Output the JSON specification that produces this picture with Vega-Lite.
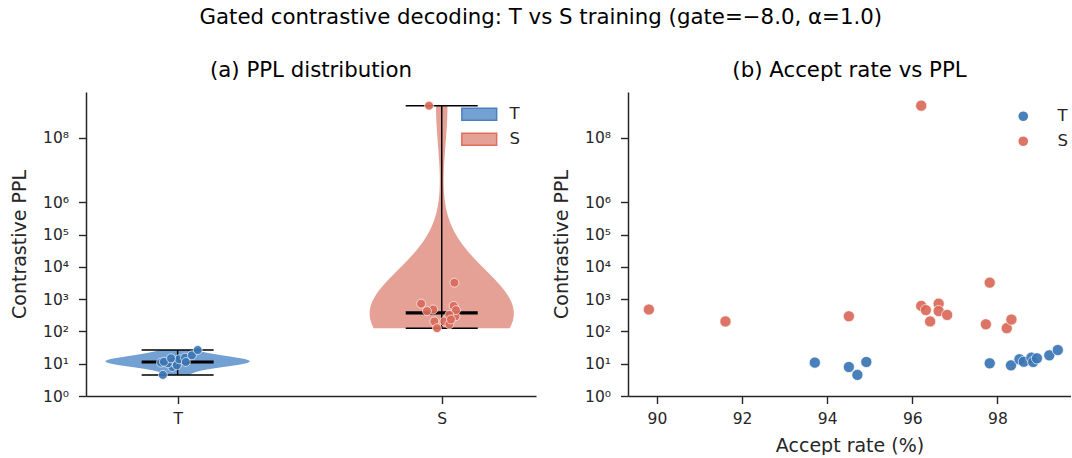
{
  "$schema": "https://vega.github.io/schema/vega-lite/v6.json",
  "background": "white",
  "padding": {"left": 10, "top": 7, "right": 0, "bottom": 0},
  "title": {"text": "Gated contrastive decoding: T vs S training (gate=−8.0, α=1.0)", "fontSize": 21.3, "fontWeight": "normal", "font": "DejaVu Sans", "color": "#000000", "anchor": "middle", "offset": 31},
  "datasets": {
    "pts": [
      {"g": "T", "acc": 93.71, "ppl": 10.8, "jit": -0.063},
      {"g": "T", "acc": 94.51, "ppl": 7.9, "jit": -0.02},
      {"g": "T", "acc": 94.71, "ppl": 4.5, "jit": -0.056},
      {"g": "T", "acc": 94.92, "ppl": 11.3, "jit": -0.018},
      {"g": "T", "acc": 97.82, "ppl": 10.3, "jit": -0.037},
      {"g": "T", "acc": 98.32, "ppl": 8.9, "jit": -0.003},
      {"g": "T", "acc": 98.52, "ppl": 13.7, "jit": 0.005},
      {"g": "T", "acc": 98.62, "ppl": 11.5, "jit": -0.052},
      {"g": "T", "acc": 98.8, "ppl": 15.4, "jit": 0.028},
      {"g": "T", "acc": 98.84, "ppl": 11.3, "jit": 0.031},
      {"g": "T", "acc": 98.93, "ppl": 14.7, "jit": -0.025},
      {"g": "T", "acc": 99.22, "ppl": 18.2, "jit": 0.054},
      {"g": "T", "acc": 99.42, "ppl": 26.5, "jit": 0.076},
      {"g": "S", "acc": 89.81, "ppl": 478, "jit": -0.032},
      {"g": "S", "acc": 91.61, "ppl": 204, "jit": -0.028},
      {"g": "S", "acc": 94.51, "ppl": 295, "jit": 0.052},
      {"g": "S", "acc": 96.21, "ppl": 980000000, "jit": -0.048},
      {"g": "S", "acc": 96.21, "ppl": 617, "jit": 0.045},
      {"g": "S", "acc": 96.32, "ppl": 457, "jit": 0.054},
      {"g": "S", "acc": 96.62, "ppl": 724, "jit": -0.078},
      {"g": "S", "acc": 96.62, "ppl": 427, "jit": -0.056},
      {"g": "S", "acc": 96.42, "ppl": 204, "jit": 0.01},
      {"g": "S", "acc": 96.82, "ppl": 324, "jit": 0.029},
      {"g": "S", "acc": 97.82, "ppl": 3236, "jit": 0.048},
      {"g": "S", "acc": 97.73, "ppl": 166, "jit": 0.029},
      {"g": "S", "acc": 98.22, "ppl": 126, "jit": -0.018},
      {"g": "S", "acc": 98.33, "ppl": 234, "jit": 0.035}
    ]
  },
  "config": {
    "font": "DejaVu Sans",
    "view": {"stroke": null},
    "axis": {"grid": false, "domainColor": "#262626", "tickColor": "#262626", "labelColor": "#262626", "titleColor": "#262626", "labelFontSize": 15.5, "titleFontSize": 19, "titleFontWeight": "normal", "tickSize": 7.5, "domainWidth": 1.5, "tickWidth": 1.4, "labelPadding": 8, "titlePadding": 9},
    "axisY": {"labelPadding": 10, "titlePadding": 13},
    "legend": {"padding": 0, "labelFontSize": 16.5, "labelColor": "#262626", "title": null},
    "title": {"fontSize": 21.3, "fontWeight": "normal", "color": "#000000", "font": "DejaVu Sans"}
  },
  "spacing": 16,
  "resolve": {"scale": {"color": "independent", "fill": "independent", "stroke": "independent", "x": "independent", "y": "independent"}, "legend": {"color": "independent", "fill": "independent", "stroke": "independent"}},
  "hconcat": [
    {
      "width": 450,
      "height": 304,
      "title": {"text": "(a) PPL distribution", "offset": 11},
      "layer": [
        {
          "data": {"name": "pts"},
          "transform": [
            {"filter": "datum.g === 'T'"},
            {"calculate": "log(datum.ppl) / LN10", "as": "lp"},
            {"density": "lp", "groupby": ["g"], "bandwidth": 0.14, "steps": 200, "as": ["lp", "dens"]},
            {"joinaggregate": [{"op": "max", "field": "dens", "as": "dmax"}]},
            {"calculate": "0.273 * datum.dens / datum.dmax", "as": "hw"},
            {"calculate": "0 - datum.hw", "as": "lo"},
            {"calculate": "0 + datum.hw", "as": "hi"},
            {"calculate": "pow(10, datum.lp)", "as": "ppl"}
          ],
          "mark": {"type": "area", "orient": "horizontal", "strokeWidth": 0, "opacity": 1},
          "encoding": {
            "y": {"field": "ppl", "type": "quantitative", "title": "Contrastive PPL", "scale": {"type": "log", "domain": [1, 2600000000], "nice": false}, "axis": {"values": [1, 10, 100, 1000, 10000, 100000, 1000000, 100000000], "labelExpr": "'10' + ['⁰','¹','²','³','⁴','⁵','⁶','⁷','⁸','⁹'][round(log(datum.value) / LN10)]"}},
            "x": {"field": "lo", "type": "quantitative", "title": null, "scale": {"domain": [-0.347, 1.357], "nice": false, "zero": false}, "axis": {"values": [0, 1], "labelExpr": "datum.value < 0.5 ? 'T' : 'S'"}},
            "x2": {"field": "hi"},
            "fill": {"field": "g", "type": "nominal", "scale": {"domain": ["T", "S"], "range": ["#74a1d3", "#e6a196"]}, "legend": {"orient": "none", "legendX": 385, "legendY": 14, "symbolType": "M-2.9,-1H2.9V1H-2.9Z", "symbolSize": 144, "symbolStrokeWidth": 1.5, "labelOffset": 22, "rowPadding": 6, "symbolOpacity": 1}},
            "stroke": {"field": "g", "type": "nominal", "scale": {"domain": ["T", "S"], "range": ["#4a80c0", "#dc6e5e"]}, "legend": {"orient": "none", "legendX": 385, "legendY": 14, "symbolType": "M-2.9,-1H2.9V1H-2.9Z", "symbolSize": 144, "symbolStrokeWidth": 1.5, "labelOffset": 22, "rowPadding": 6, "symbolOpacity": 1}}
          }
        },
        {
          "data": {"name": "pts"},
          "transform": [
            {"filter": "datum.g === 'S'"},
            {"calculate": "log(datum.ppl) / LN10", "as": "lp"},
            {"density": "lp", "groupby": ["g"], "bandwidth": 1.3, "steps": 200, "as": ["lp", "dens"]},
            {"joinaggregate": [{"op": "max", "field": "dens", "as": "dmax"}]},
            {"calculate": "0.273 * datum.dens / datum.dmax", "as": "hw"},
            {"calculate": "1 - datum.hw", "as": "lo"},
            {"calculate": "1 + datum.hw", "as": "hi"},
            {"calculate": "pow(10, datum.lp)", "as": "ppl"}
          ],
          "mark": {"type": "area", "orient": "horizontal", "strokeWidth": 0, "opacity": 1},
          "encoding": {
            "y": {"field": "ppl", "type": "quantitative", "title": "Contrastive PPL"},
            "x": {"field": "lo", "type": "quantitative", "title": null},
            "x2": {"field": "hi"},
            "fill": {"field": "g", "type": "nominal"},
            "stroke": {"field": "g", "type": "nominal"}
          }
        },
        {
          "data": {"name": "pts"},
          "transform": [
            {"aggregate": [{"op": "min", "field": "ppl", "as": "mn"}, {"op": "max", "field": "ppl", "as": "mx"}, {"op": "median", "field": "ppl", "as": "md"}], "groupby": ["g"]},
            {"calculate": "datum.g === 'T' ? 0 : 1", "as": "pos"}
          ],
          "layer": [
            {
              "mark": {"type": "rule", "color": "#000000", "strokeWidth": 1.5},
              "encoding": {
                "x": {"field": "pos", "type": "quantitative", "title": null},
                "y": {"field": "mn", "type": "quantitative", "title": "Contrastive PPL"},
                "y2": {"field": "mx"}
              }
            },
            {
              "mark": {"type": "tick", "orient": "horizontal", "size": 72, "thickness": 1.5, "color": "#000000", "opacity": 1},
              "encoding": {
                "x": {"field": "pos", "type": "quantitative", "title": null},
                "y": {"field": "mn", "type": "quantitative", "title": "Contrastive PPL"}
              }
            },
            {
              "mark": {"type": "tick", "orient": "horizontal", "size": 72, "thickness": 1.5, "color": "#000000", "opacity": 1},
              "encoding": {
                "x": {"field": "pos", "type": "quantitative", "title": null},
                "y": {"field": "mx", "type": "quantitative", "title": "Contrastive PPL"}
              }
            },
            {
              "mark": {"type": "tick", "orient": "horizontal", "size": 72, "thickness": 3.2, "color": "#000000", "opacity": 1},
              "encoding": {
                "x": {"field": "pos", "type": "quantitative", "title": null},
                "y": {"field": "md", "type": "quantitative", "title": "Contrastive PPL"}
              }
            }
          ]
        },
        {
          "data": {"name": "pts"},
          "transform": [
            {"calculate": "(datum.g === 'T' ? 0 : 1) + datum.jit", "as": "xs"}
          ],
          "mark": {"type": "circle", "size": 80, "opacity": 0.92, "stroke": "white", "strokeWidth": 0.7},
          "encoding": {
            "x": {"field": "xs", "type": "quantitative", "title": null},
            "y": {"field": "ppl", "type": "quantitative", "title": "Contrastive PPL"},
            "color": {"field": "g", "type": "nominal", "scale": {"domain": ["T", "S"], "range": ["#3b76b5", "#db6a5a"]}, "legend": null}
          }
        }
      ]
    },
    {
      "width": 443,
      "height": 304,
      "title": {"text": "(b) Accept rate vs PPL", "offset": 11},
      "data": {"name": "pts"},
      "mark": {"type": "circle", "size": 125, "opacity": 0.92, "stroke": "white", "strokeWidth": 0.7},
      "encoding": {
        "x": {"field": "acc", "type": "quantitative", "title": "Accept rate (%)", "scale": {"domain": [89.32, 99.73], "nice": false, "zero": false}, "axis": {"values": [90, 92, 94, 96, 98]}},
        "y": {"field": "ppl", "type": "quantitative", "title": "Contrastive PPL", "scale": {"type": "log", "domain": [1, 2600000000], "nice": false}, "axis": {"values": [1, 10, 100, 1000, 10000, 100000, 1000000, 100000000], "labelExpr": "'10' + ['⁰','¹','²','³','⁴','⁵','⁶','⁷','⁸','⁹'][round(log(datum.value) / LN10)]"}},
        "color": {"field": "g", "type": "nominal", "scale": {"domain": ["T", "S"], "range": ["#3b76b5", "#db6a5a"]}, "legend": {"orient": "none", "legendX": 387, "legendY": 16, "symbolType": "circle", "symbolSize": 125, "symbolOpacity": 0.92, "labelOffset": 26, "rowPadding": 7}}
      }
    }
  ]
}
